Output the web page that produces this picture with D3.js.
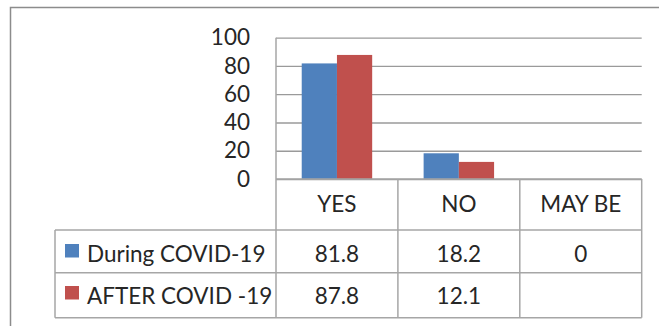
<!DOCTYPE html>
<html><head><meta charset="utf-8">
<script src="https://cdn.jsdelivr.net/npm/d3@7"></script>
<style>
html,body{margin:0;padding:0;background:#fff;}
svg{display:block;}
text{font-family:Lato,"Liberation Sans",Arial,sans-serif;fill:#262626;}
</style></head>
<body>
<svg id="c" width="659" height="326"></svg>
<script>
const categories = ["YES", "NO", "MAY BE"];
const seriesNames = ["During COVID-19", "AFTER COVID -19"];
const duringValues = [81.8, 18.2, 0];
const afterValues = [87.8, 12.1, null];
const yTicks = [0, 20, 40, 60, 80, 100];
const seriesColors = ["#4F81BD", "#C0504D"];

const series = [duringValues, afterValues];
const svg = d3.select("#c");
const fs = 22.5;
const ff = 'Lato,"Liberation Sans",Arial,sans-serif';

// outer frame
svg.append("rect").attr("x", 10.5).attr("y", 7.5).attr("width", 660).attr("height", 330)
  .attr("fill", "none").attr("stroke", "#8c8c8c").attr("stroke-width", 1.5);

const plotL = 276, plotR = 641.7, plotT = 37.7, plotB = 179;
const x = d3.scaleBand().domain(categories).range([plotL, plotR]).paddingInner(0).paddingOuter(0);
const xs = d3.scaleBand().domain(d3.range(series.length)).range([0, x.bandwidth()]).paddingInner(0).paddingOuter(0.73);
const y = d3.scaleLinear().domain([0, 100]).range([plotB, plotT]);

// gridlines
const grid = svg.append("g").attr("transform", `translate(${plotL},0)`)
  .call(d3.axisLeft(y).tickValues(yTicks).tickSize(-(plotR - plotL)).tickFormat(""));
grid.select(".domain").remove();
grid.selectAll("line").attr("stroke", "#9a9a9a").attr("stroke-width", 1.3);

// y labels
const yl = svg.append("g").attr("transform", `translate(250,0)`)
  .call(d3.axisLeft(y).tickValues(yTicks).tickSize(0).tickPadding(0));
yl.select(".domain").remove();
yl.selectAll("text").attr("font-size", fs).attr("font-family", ff).attr("fill", "#262626");

// bars
series.forEach((vals, si) => {
  svg.append("g").selectAll("rect")
    .data(categories.map((c, i) => ({c, v: vals[i]})).filter(d => d.v !== null && d.v > 0))
    .join("rect")
    .attr("x", d => x(d.c) + xs(si))
    .attr("width", xs.bandwidth())
    .attr("y", d => y(d.v))
    .attr("height", d => y(0) - y(d.v))
    .attr("fill", seriesColors[si]);
});

// data table
const tableL = 55;
const lineC = "#a6a6a6";
const tg = svg.append("g");
tg.append("line").attr("x1", plotL).attr("x2", plotR).attr("y1", plotB).attr("y2", plotB).attr("stroke", lineC).attr("stroke-width", 1.5);
[230, 272.7, 317.7].forEach(yy => {
  tg.append("line").attr("x1", tableL).attr("x2", plotR).attr("y1", yy).attr("y2", yy).attr("stroke", lineC).attr("stroke-width", 1.5);
});
tg.append("line").attr("x1", plotL).attr("x2", plotL).attr("y1", plotT).attr("y2", 317.7).attr("stroke", lineC).attr("stroke-width", 1.5);
tg.append("line").attr("x1", tableL).attr("x2", tableL).attr("y1", 230).attr("y2", 317.7).attr("stroke", lineC).attr("stroke-width", 1.5);
categories.forEach(c => {
  const xx = x(c) + x.bandwidth();
  tg.append("line").attr("x1", xx).attr("x2", xx).attr("y1", plotB).attr("y2", 317.7).attr("stroke", lineC).attr("stroke-width", 1.5);
});
tg.selectAll("text.cat").data(categories).join("text").attr("class", "cat")
  .attr("x", d => x(d) + x.bandwidth() / 2).attr("y", 212)
  .attr("text-anchor", "middle").attr("font-size", fs).text(d => d);
const baselines = [261.5, 303.5];
series.forEach((vals, si) => {
  tg.append("rect").attr("x", 65).attr("y", baselines[si] - 17.5).attr("width", 14).attr("height", 13.5).attr("fill", seriesColors[si]);
  tg.append("text").attr("x", 87).attr("y", baselines[si]).attr("font-size", fs).text(seriesNames[si]);
  tg.selectAll(null).data(categories.map((c, i) => ({c, v: vals[i]})).filter(d => d.v !== null)).join("text")
    .attr("x", d => x(d.c) + x.bandwidth() / 2).attr("y", baselines[si])
    .attr("text-anchor", "middle").attr("font-size", fs).text(d => d.v);
});
</script>
</body></html>
